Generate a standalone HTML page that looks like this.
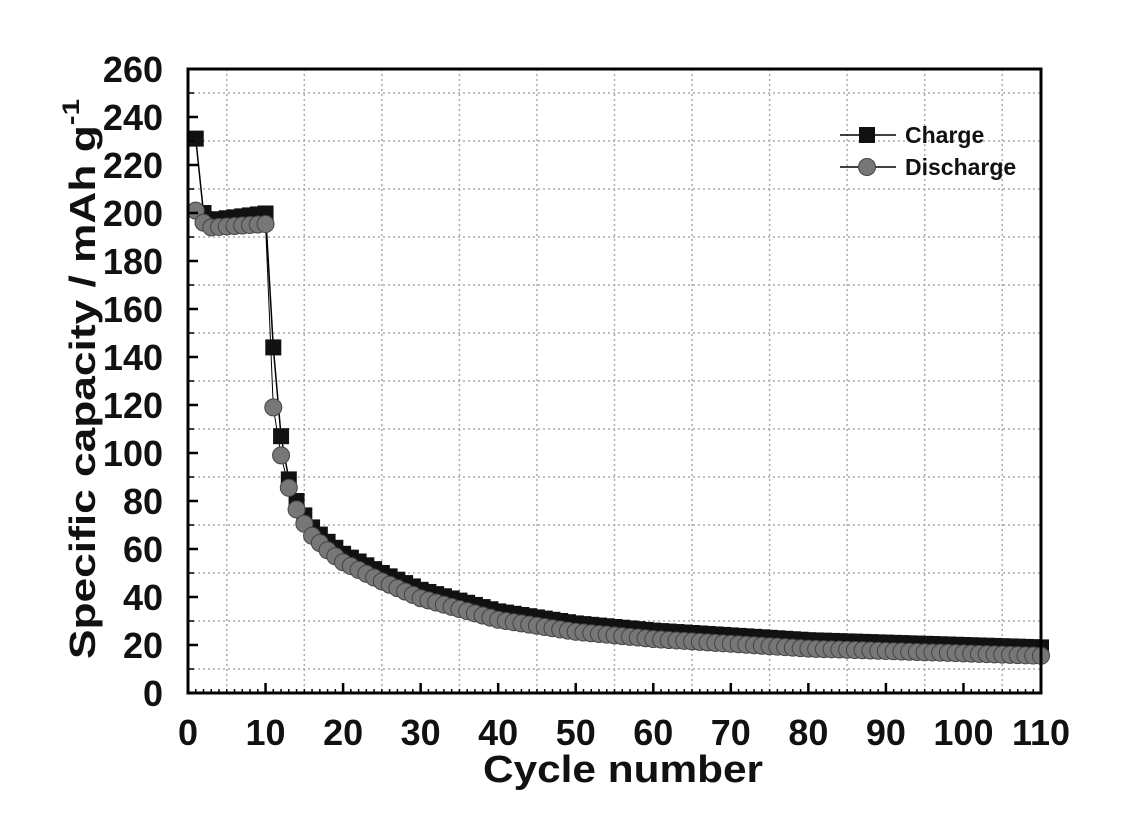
<!DOCTYPE html>
<html><head><meta charset="utf-8"><style>body{margin:0;background:#fff}svg{display:block}</style></head>
<body>
<svg id="s" width="1124" height="824" xmlns="http://www.w3.org/2000/svg" font-family="Liberation Sans, sans-serif" font-weight="bold">
<rect width="1124" height="824" fill="#fff"/>
<g id="grid" stroke="#aaa" stroke-width="1.5" stroke-dasharray="2,3"></g>
<g id="data"></g>
<rect x="188" y="69" width="853" height="624" fill="none" stroke="#000" stroke-width="3"/>
<g id="ticks" stroke="#000" stroke-width="2.5"></g>
<g id="labels" font-size="36" fill="#111"></g>
<text x="623" y="782" font-size="38" text-anchor="middle" textLength="280" lengthAdjust="spacingAndGlyphs" fill="#111">Cycle number</text>
<text transform="translate(95,379) rotate(-90)" font-size="36" text-anchor="middle" textLength="560" lengthAdjust="spacingAndGlyphs" fill="#111">Specific capacity / mAh g<tspan dy="-16" font-size="24">-1</tspan></text>
<line x1="840" y1="135" x2="896" y2="135" stroke="#000" stroke-width="1.5"/>
<rect x="859" y="127" width="16" height="16" fill="#111"/>
<text x="905" y="143" font-size="23" fill="#111">Charge</text>
<line x1="840" y1="167" x2="896" y2="167" stroke="#000" stroke-width="1.5"/>
<circle cx="867" cy="167" r="8.5" fill="#777" stroke="#444" stroke-width="1"/>
<text x="905" y="175" font-size="23" fill="#111">Discharge</text>
</svg>
<script>
const NS="http://www.w3.org/2000/svg";
const X=v=>188+v*853/110, Y=v=>693-v*2.4;
function el(p,t,a){const e=document.createElementNS(NS,t);for(const k in a)e.setAttribute(k,a[k]);p.appendChild(e);return e;}
const g=document.getElementById('grid'),tk=document.getElementById('ticks'),lb=document.getElementById('labels'),d=document.getElementById('data');
for(let v=5;v<110;v+=10)el(g,'line',{x1:X(v),x2:X(v),y1:69,y2:693});
for(let v=10;v<260;v+=20)el(g,'line',{x1:188,x2:1041,y1:Y(v),y2:Y(v)});
for(let v=0;v<=110;v+=10){el(tk,'line',{x1:X(v),x2:X(v),y1:693,y2:683});const t=el(lb,'text',{x:X(v),y:745,'text-anchor':'middle'});t.textContent=v;}
for(let v=0;v<=110;v+=1)el(tk,'line',{x1:X(v),x2:X(v),y1:693,y2:689,'stroke-width':1.5});
for(let v=0;v<=260;v+=20){el(tk,'line',{x1:188,x2:198,y1:Y(v),y2:Y(v)});const t=el(lb,'text',{x:163,y:Y(v)+13,'text-anchor':'end'});t.textContent=v;}
for(let v=10;v<260;v+=20)el(tk,'line',{x1:188,x2:194,y1:Y(v),y2:Y(v),'stroke-width':1.5});
const pts=[[13,89],[14,80],[15,74],[16,69],[18,63],[20,58],[25,50],[30,43],[40,34],[50,29],[60,26],[70,24],[80,22],[90,21],[100,20],[110,19]];
function interp(n){for(let i=0;i<pts.length-1;i++){const[a,b]=pts[i],[c,e]=pts[i+1];if(n<=c)return b+(e-b)*(n-a)/(c-a);}return 19;}
const ch=[],dc=[];
for(let n=1;n<=110;n++){
 let c,q;
 if(n==1){c=231;q=201}else if(n==2){c=200;q=196}else if(n<=10){c=197+(n-3)*0.4;q=194+(n-3)*0.2}
 else if(n==11){c=144;q=119}else if(n==12){c=107;q=99}else{c=interp(n);q=c-3.5;}
 ch.push([X(n),Y(c)]);dc.push([X(n),Y(q)]);
}
el(d,'polyline',{points:ch.map(p=>p.join(',')).join(' '),fill:'none',stroke:'#000','stroke-width':1.5});
el(d,'polyline',{points:dc.map(p=>p.join(',')).join(' '),fill:'none',stroke:'#000','stroke-width':1});
ch.forEach(p=>el(d,'rect',{x:p[0]-8,y:p[1]-8,width:16,height:16,fill:'#111'}));
dc.forEach(p=>el(d,'circle',{cx:p[0],cy:p[1],r:8.5,fill:'#777',stroke:'#444','stroke-width':1}));
</script>
</body></html>
